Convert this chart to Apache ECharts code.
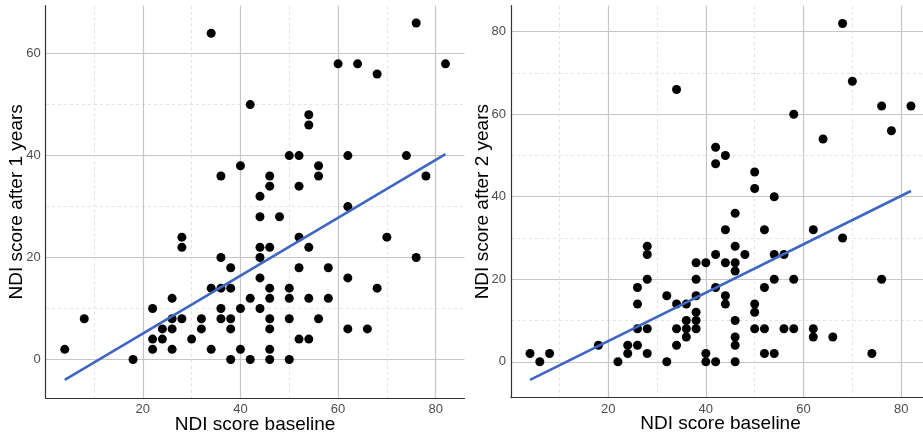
<!DOCTYPE html>
<html>
<head>
<meta charset="utf-8">
<script src="https://cdn.jsdelivr.net/npm/echarts@6/dist/echarts.min.js"></script>
<style>
  html, body { margin: 0; padding: 0; background: #ffffff; overflow: hidden; }
  #chart { width: 923px; height: 439px; }
</style>
</head>
<body>
<div id="chart"></div>
<script>
// ---- Data ----
// Panel 1: NDI baseline vs NDI after 1 year
const baseline1 = [4,8,18,22,22,22,24,24,26,26,26,26,28,28,28,30,32,32,34,34,34,36,36,36,36,36,38,38,38,38,38,40,40,40,42,42,42,44,44,44,44,44,44,46,46,46,46,46,46,46,46,46,48,50,50,50,50,50,52,52,52,52,52,54,54,54,54,54,56,56,56,58,58,60,62,62,62,62,64,66,68,68,70,74,76,76,78,82];
const after1    = [2,8,0,10,4,2,6,4,12,8,6,2,24,22,8,4,8,6,64,14,2,36,20,14,10,8,18,14,8,6,0,38,10,2,50,12,0,32,28,22,20,16,10,36,34,22,14,12,8,6,2,0,28,40,14,12,8,0,40,34,24,18,4,48,46,22,12,4,38,36,8,18,12,58,40,30,16,6,58,6,56,14,24,40,66,20,36,58];
// Linear fit line (endpoints)
const fitX1 = [4, 82];
const fitY1 = [-4.0, 40.3];

// Panel 2: NDI baseline vs NDI after 2 years
const baseline2 = [4,6,8,18,22,24,24,26,26,26,26,28,28,28,28,28,32,32,34,34,34,34,36,36,36,36,38,38,38,38,38,38,40,40,40,42,42,42,42,42,44,44,44,44,44,46,46,46,46,46,46,46,46,48,50,50,50,50,50,52,52,52,52,54,54,54,54,56,56,58,58,58,62,62,62,64,66,68,68,70,74,76,76,78,82];
const after2    = [2,0,2,4,0,4,2,18,14,8,4,28,26,20,8,2,16,0,66,14,8,4,14,10,8,6,24,20,16,12,10,8,24,2,0,52,48,26,18,0,50,32,24,16,14,36,28,24,22,10,6,4,0,26,46,42,14,12,8,32,18,8,2,40,26,20,2,26,8,60,20,8,32,8,6,54,6,82,30,68,2,62,20,56,62];
const fitX2 = [4, 82];
const fitY2 = [-4.4, 41.4];

// Tick labels
const xTicks = [20, 40, 60, 80];
const xMinor = [10, 30, 50, 70];
const yTicks1 = [0, 20, 40, 60];
const yMinor1 = [10, 30, 50];
const yTicks2 = [0, 20, 40, 60, 80];
const yMinor2 = [10, 30, 50, 70];

const xTitle = 'NDI score baseline';
const yTitle1 = 'NDI score after 1 years';
const yTitle2 = 'NDI score after 2 years';

// ---- Build chart ----
const zip = (a, b) => a.map((v, i) => [v, b[i]]);
const FONT = '"Liberation Sans", Arial, sans-serif';
const majorColor = '#c6c6c6';
const minorColor = '#e3e3e3';

function mainX(gridIndex, ticks) {
  return {
    type: 'value', gridIndex, min: 0.1, max: 85.9,
    name: xTitle, nameLocation: 'middle', nameGap: 17, nameMoveOverlap: false,
    nameTextStyle: { fontFamily: FONT, fontSize: 19, color: '#000', verticalAlign: 'top' },
    axisLine: { show: true, onZero: false, lineStyle: { color: '#333333', width: 1.2 } },
    axisTick: { show: false, customValues: ticks },
    axisLabel: { customValues: ticks, fontFamily: FONT, fontSize: 13, color: '#4d4d4d', margin: 5 },
    splitLine: { show: true, lineStyle: { color: majorColor, width: 1.2 } }
  };
}
function minorX(gridIndex, ticks) {
  return {
    type: 'value', gridIndex, min: 0.1, max: 85.9, position: 'bottom',
    axisLine: { show: false }, axisLabel: { show: false },
    axisTick: { show: false, customValues: ticks },
    splitLine: { show: true, lineStyle: { color: minorColor, width: 1, type: [3, 3] } }
  };
}
function mainY(gridIndex, min, max, ticks, title) {
  return {
    type: 'value', gridIndex, min, max, position: 'left',
    name: title, nameLocation: 'middle', nameGap: 19, nameRotate: 90, nameMoveOverlap: false,
    nameTextStyle: { fontFamily: FONT, fontSize: 19, color: '#000' },
    axisLine: { show: true, onZero: false, lineStyle: { color: '#333333', width: 1.2 } },
    axisTick: { show: false, customValues: ticks },
    axisLabel: { customValues: ticks, fontFamily: FONT, fontSize: 13, color: '#4d4d4d', margin: 5 },
    splitLine: { show: true, lineStyle: { color: majorColor, width: 1.2 } }
  };
}
function minorY(gridIndex, min, max, ticks) {
  return {
    type: 'value', gridIndex, min, max, position: 'right',
    axisLine: { show: false }, axisLabel: { show: false },
    axisTick: { show: false, customValues: ticks },
    splitLine: { show: true, lineStyle: { color: minorColor, width: 1, type: [3, 3] } }
  };
}

const chart = echarts.init(document.getElementById('chart'), null, { renderer: 'canvas' });
chart.setOption({
  backgroundColor: '#ffffff',
  animation: false,
  grid: [
    { left: 45.7, top: 5.7, right: 458.5, bottom: 41, containLabel: false, outerBoundsMode: 'none' },
    { left: 511, top: 5.7, right: -7, bottom: 41.3, containLabel: false, outerBoundsMode: 'none' }
  ],
  xAxis: [
    mainX(0, xTicks), minorX(0, xMinor),
    mainX(1, xTicks), minorX(1, xMinor)
  ],
  yAxis: [
    mainY(0, -7.55, 69.4, yTicks1, yTitle1), minorY(0, -7.55, 69.4, yMinor1),
    mainY(1, -8.7, 86.3, yTicks2, yTitle2), minorY(1, -8.7, 86.3, yMinor2)
  ],
  series: [
    { type: 'scatter', xAxisIndex: 0, yAxisIndex: 0, data: zip(baseline1, after1),
      symbolSize: 9, itemStyle: { color: '#000000', opacity: 1 }, z: 3 },
    { type: 'line', xAxisIndex: 0, yAxisIndex: 0, data: zip(fitX1, fitY1),
      symbol: 'none', lineStyle: { color: '#3f66c2', width: 2.6 }, z: 4 },
    { type: 'scatter', xAxisIndex: 2, yAxisIndex: 2, data: zip(baseline2, after2),
      symbolSize: 9, itemStyle: { color: '#000000', opacity: 1 }, z: 3 },
    { type: 'line', xAxisIndex: 2, yAxisIndex: 2, data: zip(fitX2, fitY2),
      symbol: 'none', lineStyle: { color: '#3f66c2', width: 2.6 }, z: 4 }
  ]
});
</script>
</body>
</html>
